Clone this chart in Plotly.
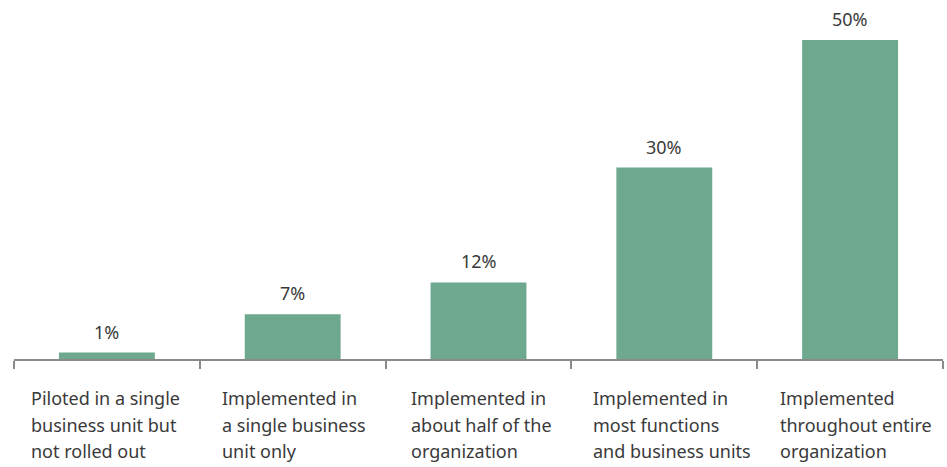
import plotly.graph_objects as go

categories = [
    "Piloted in a single business unit but not rolled out",
    "Implemented in a single business unit only",
    "Implemented in about half of the organization",
    "Implemented in most functions and business units",
    "Implemented throughout entire organization",
]
category_lines = [
    ["Piloted in a single", "business unit but", "not rolled out"],
    ["Implemented in", "a single business", "unit only"],
    ["Implemented in", "about half of the", "organization"],
    ["Implemented in", "most functions", "and business units"],
    ["Implemented", "throughout entire", "organization"],
]
values = [1, 7, 12, 30, 50]
value_labels = ["1%", "7%", "12%", "30%", "50%"]

BAR_COLOR = "#6ea88f"
TEXT_COLOR = "#3a3a3a"
AXIS_COLOR = "#8a8a8a"
FONT = "Noto Sans, Open Sans, sans-serif"
FONT_SIZE = 18
LINE_STEP = 26.5
# horizontal offset (px) of each caption block from its category centre
CAPTION_SHIFT = [-78, -73, -70, -73, -72]

fig = go.Figure(
    go.Bar(
        x=categories,
        y=values,
        marker=dict(color=BAR_COLOR, line=dict(width=0)),
        hoverinfo="x+y",
    )
)

# Value labels floating above each bar
for cat, v, lab in zip(categories, values, value_labels):
    fig.add_annotation(
        x=cat, y=v, xref="x", yref="y", text=lab, showarrow=False,
        xanchor="center", yanchor="bottom", yshift=7,
        font=dict(family=FONT, size=FONT_SIZE, color=TEXT_COLOR),
    )

# Category captions below the axis: left-aligned, stacked lines
for cat, lines, dx in zip(categories, category_lines, CAPTION_SHIFT):
    for i, line in enumerate(lines):
        fig.add_annotation(
            x=cat, y=0, xref="x", yref="y", text=line, showarrow=False,
            xanchor="left", yanchor="middle",
            xshift=dx, yshift=-(39 + i * LINE_STEP),
            font=dict(family=FONT, size=FONT_SIZE, color=TEXT_COLOR),
        )

fig.update_layout(
    width=947, height=467,
    margin=dict(l=14, r=4, t=10, b=108),
    paper_bgcolor="white", plot_bgcolor="white",
    bargap=0.484,
    showlegend=False,
    xaxis=dict(
        showticklabels=False,
        tickson="boundaries",
        ticks="outside", ticklen=8, tickwidth=1.5, tickcolor=AXIS_COLOR,
        showline=True, linecolor=AXIS_COLOR, linewidth=1.5,
        showgrid=False, zeroline=False,
    ),
    yaxis=dict(
        range=[0, 54.7], visible=False, showgrid=False, zeroline=False,
    ),
)

fig.write_html("out.html")
